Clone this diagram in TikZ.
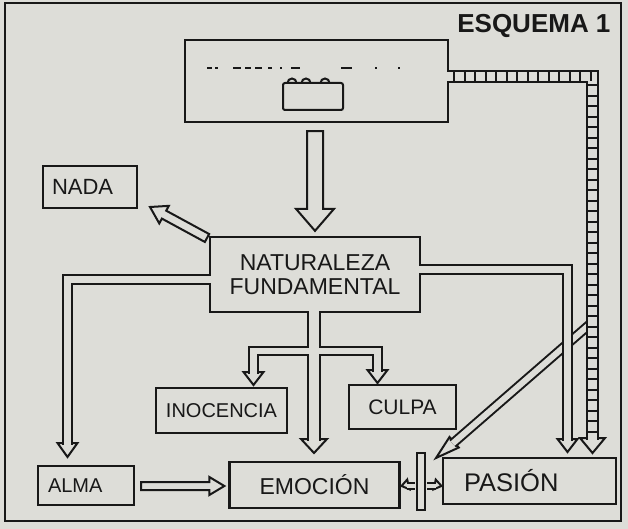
\documentclass[tikz,border=0pt]{standalone}
\usepackage{fontspec}
\setmainfont{Liberation Sans}
\usetikzlibrary{calc}
\definecolor{bg}{RGB}{221,221,216}
\definecolor{ink}{RGB}{24,24,24}
\newcommand\ahead[4]{%
  \coordinate (hb) at ($(#2)!#4!(#1)$);
  \draw[headst] (#2) -- ($(hb)!#3!90:(#2)$) -- ($(hb)!#3!-90:(#2)$) -- cycle;}
\newcommand\carrow[5]{%
  \coordinate (cb) at ($(#2)!#5!(#1)$);
  \draw[headst] ($(#1)!#3!90:(#2)$) -- ($(cb)!#3!90:(#2)$) -- ($(cb)!#4!90:(#2)$) -- (#2)
    -- ($(cb)!#4!-90:(#2)$) -- ($(cb)!#3!-90:(#2)$) -- ($(#1)!#3!-90:(#2)$) -- cycle;}
\begin{document}
\begin{tikzpicture}[x=1pt,y=-1pt,line join=miter,
  box/.style={draw=ink,line width=2.3pt,fill=bg,inner sep=0pt,text=ink,font=\fontsize{21}{24}\selectfont},
  headst/.style={draw=ink,line width=2pt,fill=bg,line join=miter}]
\fill[bg] (0,0) rectangle (628,529);
\useasboundingbox (0,0) rectangle (628,529);
\draw[ink,line width=2.8pt] (5,3) rectangle (621,521);
% title
\node[text=ink,font=\bfseries\fontsize{26}{26}\selectfont,anchor=east] (title) at (614,26) {ESQUEMA 1};
% boxes
\node[box,minimum width=263pt,minimum height=82pt] (top) at (316.5,81) {};
\node[box,inner xsep=9pt,text width=76pt,align=left,minimum height=42pt,font=\fontsize{22}{24}\selectfont] (nada) at (90,187) {NADA};
\node[box,minimum width=210pt,minimum height=75pt,align=center,font=\fontsize{23}{24}\selectfont] (nat) at (315,274.5) {NATURALEZA\\FUNDAMENTAL};
\node[box,minimum width=131pt,minimum height=45pt,font=\fontsize{20}{24}\selectfont] (inoc) at (221.5,410.5) {INOCENCIA};
\node[box,minimum width=107pt,minimum height=44pt,font=\fontsize{21}{24}\selectfont] (culpa) at (402.5,407) {CULPA};
\node[box,inner xsep=10pt,text width=76pt,align=left,minimum height=39pt,font=\fontsize{20}{24}\selectfont] (alma) at (86,485.5) {ALMA};
\node[box,minimum width=170pt,minimum height=46pt,font=\fontsize{23}{24}\selectfont] (emo) at (314.5,485) {EMOCIÓN};
\node[box,inner xsep=21pt,text width=131pt,align=left,minimum height=46pt,font=\fontsize{25.5}{26}\selectfont] (pas) at (529.5,481) {PASIÓN};
\node[box,minimum width=8pt,minimum height=57pt] (bar) at (421,481.5) {};
% contents of the top box
\draw[ink,line width=2pt,rounded corners=2pt] (283,83) rectangle (343,110);
\foreach \bx in {292,306,325}
  \draw[ink,line width=2pt] (\bx-4.5,83) arc (180:360:4.5);
\foreach \da/\db in {207/212,215/218,233/241,245/251,255/262,268/272,280/282,291/300,341/352,375/377,398/400}
  \draw[ink,line width=1.6pt] (\da,68) -- (\db,68);
% coordinates
\coordinate (tA) at (67.5,457);   \coordinate (sA) at (67.5,279.5);
\coordinate (tB) at (567.5,452);  \coordinate (sB) at (567.5,269);
\coordinate (tC) at (314,453);    \coordinate (sC) at (314,320);
\coordinate (tD1) at (253.5,385); \coordinate (sD1) at (253.5,351);
\coordinate (tD2) at (377.5,383); \coordinate (sD2) at (377.5,351);
\coordinate (tF) at (592.5,453);  \coordinate (sF) at (592.5,76.5);
\coordinate (tG) at (436,458);    \coordinate (sG) at (592.5,322);
\coordinate (ge) at ($(tG)!22pt!(sG)$);
\coordinate (tL) at (401.5,486);  \coordinate (tR) at (441.5,486);
% heads
\ahead{sA}{tA}{10pt}{14pt}
\ahead{sB}{tB}{10pt}{13pt}
\ahead{sC}{tC}{13pt}{14pt}
\ahead{sD1}{tD1}{10pt}{13pt}
\ahead{sD2}{tD2}{10pt}{13pt}
\ahead{sF}{tF}{12.5pt}{15pt}
\ahead{sG}{tG}{7pt}{24pt}
\ahead{bar}{tL}{5pt}{7pt}
\ahead{bar}{tR}{5pt}{7pt}
% rails (paths)
\def\pA{($(nat.west)+(2,5)$) -- (sA) -- (67.5,444.5)}
\def\pB{($(nat.east)+(-2,-5.5)$) -- (sB) -- (567.5,440.5)}
\def\pC{($(nat.south)+(-1,-2)$) -- (314,440.5)}
\def\pD{(253.5,373.5) -- (sD1) -- (sD2) -- (377.5,371.5)}
\def\pF{($(top.east)+(-2,-4.5)$) -- (sF) -- (592.5,439.5)}
\def\pL{($(bar.west)+(-1,4.5)$) -- (407,486)}
\def\pR{($(bar.east)+(1,4.5)$) -- (435.5,486)}
% diagonal (under the others)
\draw[ink,line width=10pt] (sG) -- (ge);
\draw[bg,line width=6pt] (sG) -- (ge);
% fundamental rails
\draw[ink,line width=11pt] \pA;
\draw[ink,line width=11pt] \pB;
\draw[ink,line width=14pt] \pC;
\draw[ink,line width=10.5pt] \pD;
\draw[bg,line width=7pt] \pA;
\draw[bg,line width=7pt] \pB;
\draw[bg,line width=10pt] \pC;
\draw[bg,line width=6.5pt] \pD;
% ladder
\draw[ink,line width=13pt] \pF;
\draw[bg,line width=9pt] \pF;
\draw[ink,line width=9pt,dash pattern=on 2pt off 8.5pt] ($(top.east)+(4,-4.5)$) -- (sF) -- (592.5,437);
% small arrows at the bar
\draw[ink,line width=8pt] \pL;  \draw[bg,line width=4pt] \pL;
\draw[ink,line width=8pt] \pR;  \draw[bg,line width=4pt] \pR;
% closed arrows
\coordinate (bt) at ($(top.south)+(-1.5,8)$);  \coordinate (bp) at ($(nat.north)+(0,-5)$);
\carrow{bt}{bp}{8pt}{19pt}{22pt}
\coordinate (nt) at (207,238);  \coordinate (np) at (150,207);
\carrow{nt}{np}{4.5pt}{10pt}{16pt}
\coordinate (et) at ($(alma.east)+(6,0.5)$);  \coordinate (ep) at ($(emo.west)+(-4,1)$);
\carrow{et}{ep}{4pt}{9pt}{15pt}
\end{tikzpicture}
\end{document}
